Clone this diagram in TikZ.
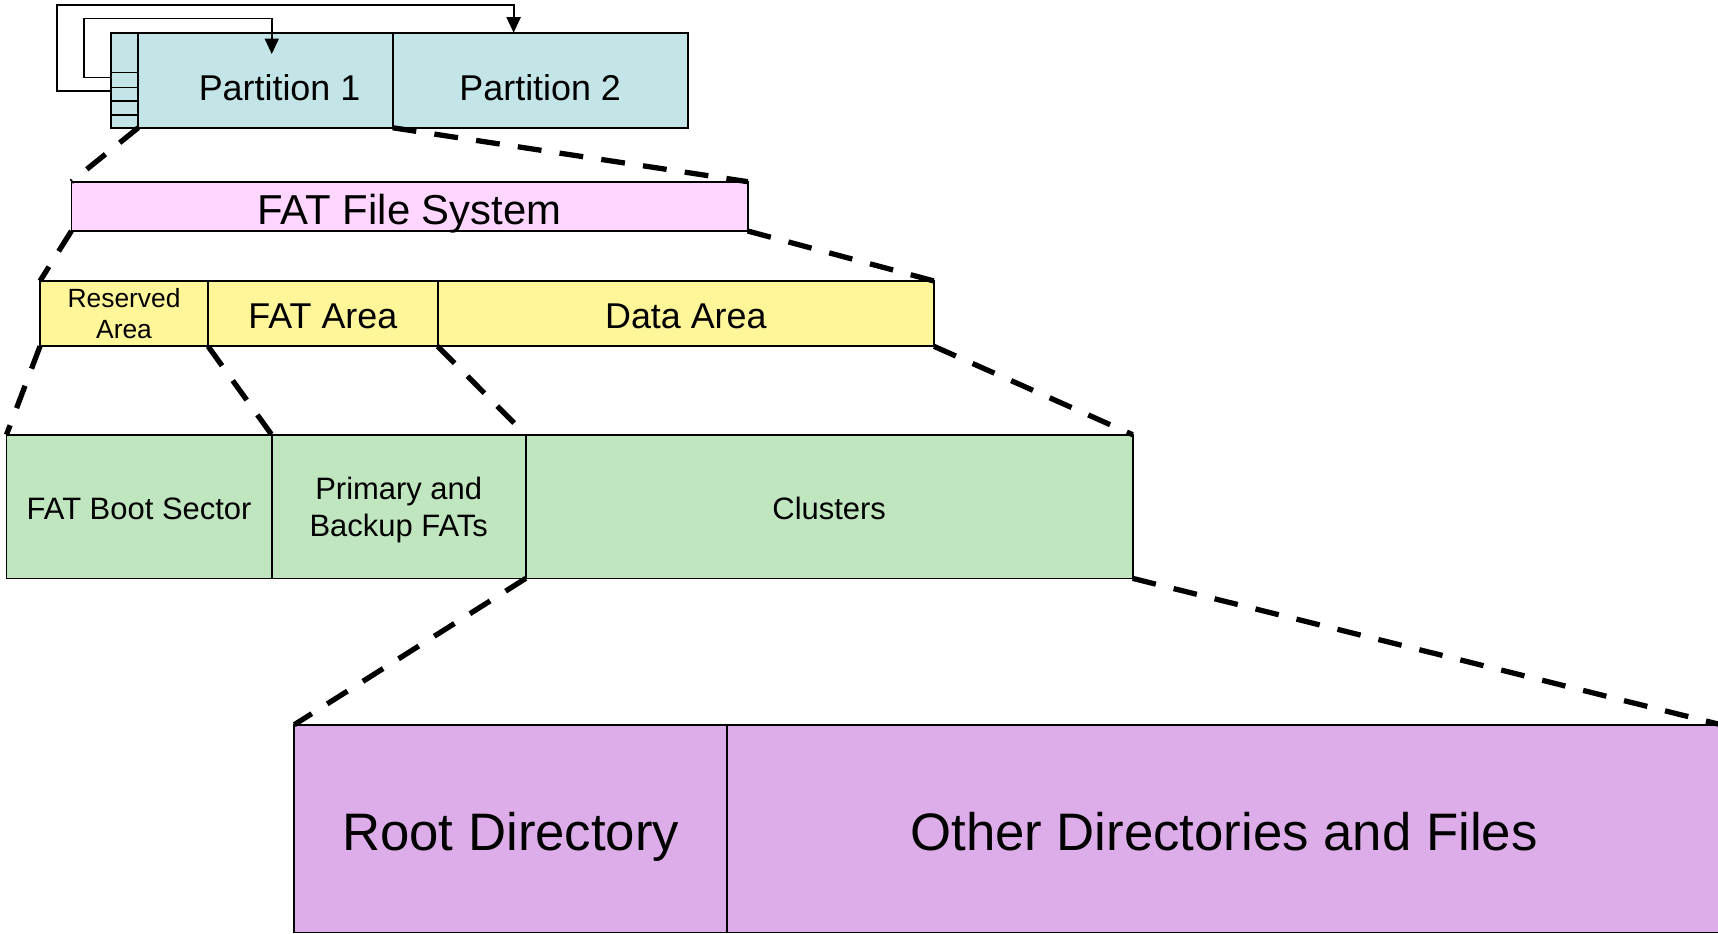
\documentclass[tikz,border=0pt]{standalone}
\usepackage{fontspec}
\setmainfont{Liberation Sans}
\usepackage{xcolor}
\usepackage{tikz}
\usetikzlibrary{positioning,arrows.meta}
\definecolor{partcol}{RGB}{195,229,232}
\definecolor{fscol}{RGB}{255,214,255}
\definecolor{areacol}{RGB}{255,246,153}
\definecolor{seccol}{RGB}{191,230,191}
\definecolor{dircol}{RGB}{220,173,232}
\tikzset{BKnode/.style={shape=rectangle,draw,line width=.5pt,inner sep=0pt,outer sep=0pt,anchor=north west,align=center,text depth=0pt}}
\tikzset{ZMline/.style={dash pattern=on 6.8pt off 5.2pt,line width=1.5pt}}
\tikzset{PTarrow/.style={line width=.5pt,-{Triangle[width=4pt,length=4.4pt]}}}

\begin{document}
\begin{tikzpicture}[x=0.01cm,y=-0.01cm]
	\useasboundingbox (0,0) rectangle (1718,934);
	% disk and partitions
	\node[BKnode,fill=partcol,minimum width=0.276cm,minimum height=0.95cm] (T) at (110.7,32.7) {};
	\node[BKnode,fill=partcol,minimum width=2.542cm,minimum height=0.95cm,text height=11.3pt,font=\fontsize{10.2}{12}\selectfont] (P1) at (138.3,32.7) {\hspace*{8pt}Partition 1};
	\node[BKnode,fill=partcol,minimum width=2.95cm,minimum height=0.95cm,text height=11.3pt,font=\fontsize{10.2}{12}\selectfont,right=0pt of P1] (P2) {Partition 2};
	\foreach \y in {72.6,87.6,101,114.7}
		\draw[line width=.5pt] (T.west |- 0,\y) -- (T.east |- 0,\y);
	%
	\node[BKnode,fill=fscol,minimum width=6.759cm,minimum height=0.493cm,text height=10.5pt,font=\fontsize{11.9}{14}\selectfont] (FS) at (71.4,181.7) {FAT File System};
	%
	\node[BKnode,fill=areacol,minimum width=1.68cm,minimum height=0.653cm,font=\fontsize{7.5}{8.8}\selectfont] (RA) at (40,281) {Reserved\\Area};
	\node[BKnode,fill=areacol,minimum width=2.295cm,minimum height=0.653cm,text height=8.7pt,font=\fontsize{10.2}{12}\selectfont,right=0pt of RA] (FA) {FAT Area};
	\node[BKnode,fill=areacol,minimum width=4.96cm,minimum height=0.653cm,text height=8.7pt,font=\fontsize{10.2}{12}\selectfont,right=0pt of FA] (DA) {Data Area};
	%
	\node[BKnode,fill=seccol,minimum width=2.65cm,minimum height=1.436cm,text height=7.3pt,font=\fontsize{8.8}{10.6}\selectfont] (BS) at (6.5,434.7) {FAT Boot Sector};
	\node[BKnode,fill=seccol,minimum width=2.54cm,minimum height=1.436cm,font=\fontsize{8.8}{10.6}\selectfont,right=0pt of BS] (PB) {Primary and\\Backup FATs};
	\node[BKnode,fill=seccol,minimum width=6.065cm,minimum height=1.436cm,text height=7.3pt,font=\fontsize{8.8}{10.6}\selectfont,right=0pt of PB] (CL) {Clusters};
	%
	\node[BKnode,fill=dircol,minimum width=4.327cm,minimum height=2.076cm,text height=12.2pt,font=\fontsize{15}{18}\selectfont] (RD) at (294.3,724.7) {Root Directory};
	\node[BKnode,fill=dircol,minimum width=9.93cm,minimum height=2.076cm,text height=12.2pt,font=\fontsize{15}{18}\selectfont,right=0pt of RD] (OD) {Other Directories and Files};
	%
	\draw[PTarrow] ([yshift=0.026cm]T.west) -| (83.9,18.4) -| ([xshift=0.063cm,yshift=-0.213cm]P1.north);
	\draw[PTarrow] ([yshift=-0.108cm]T.west) -| (57.1,4.7) -| ([xshift=-0.266cm]P2.north);
	%
	\path[ZMline]
	(P1.south west) edge (FS.north west)
	(P1.south east) edge (FS.north east)
	(FS.south west) edge (RA.north west)
	(FS.south east) edge (DA.north east)
	(RA.south west) edge (BS.north west)
	(RA.south east) edge (PB.north west)
	(FA.south east) edge (CL.north west)
	(DA.south east) edge (CL.north east)
	(CL.south west) edge (RD.north west)
	(CL.south east) edge (OD.north east);
\end{tikzpicture}
\end{document}
